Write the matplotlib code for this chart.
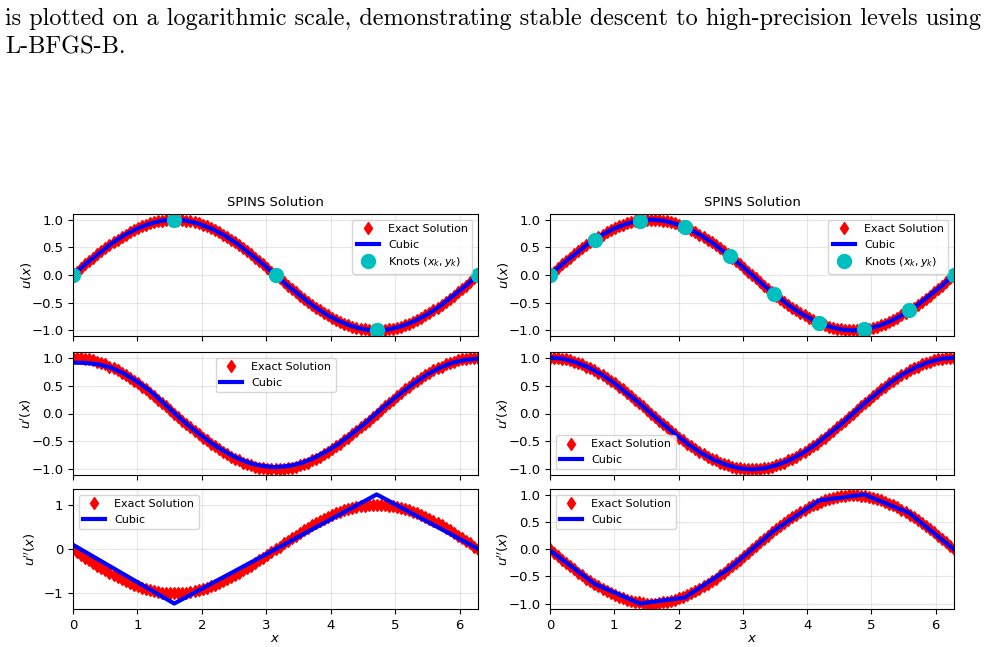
import numpy as np
import matplotlib
matplotlib.use('Agg')
import matplotlib.pyplot as plt
from matplotlib.ticker import MultipleLocator

# Exact solution sampled on 101 points over [0, 2*pi]
exact_u = [0.00, 0.06, 0.13, 0.19, 0.25, 0.31, 0.37, 0.43, 0.48, 0.54, 0.59, 0.64, 0.68,
           0.73, 0.77, 0.81, 0.84, 0.88, 0.90, 0.93, 0.95, 0.97, 0.98, 0.99, 1.00, 1.00,
           1.00, 0.99, 0.98, 0.97, 0.95, 0.93, 0.90, 0.88, 0.84, 0.81, 0.77, 0.73, 0.68,
           0.64, 0.59, 0.54, 0.48, 0.43, 0.37, 0.31, 0.25, 0.19, 0.13, 0.06, 0.00,
           -0.06, -0.13, -0.19, -0.25, -0.31, -0.37, -0.43, -0.48, -0.54, -0.59, -0.64, -0.68,
           -0.73, -0.77, -0.81, -0.84, -0.88, -0.90, -0.93, -0.95, -0.97, -0.98, -0.99, -1.00, -1.00,
           -1.00, -0.99, -0.98, -0.97, -0.95, -0.93, -0.90, -0.88, -0.84, -0.81, -0.77, -0.73, -0.68,
           -0.64, -0.59, -0.54, -0.48, -0.43, -0.37, -0.31, -0.25, -0.19, -0.13, -0.06, 0.00]
exact_du = [1.00, 1.00, 0.99, 0.98, 0.97, 0.95, 0.93, 0.90, 0.88, 0.84, 0.81, 0.77, 0.73,
            0.68, 0.64, 0.59, 0.54, 0.48, 0.43, 0.37, 0.31, 0.25, 0.19, 0.13, 0.06, 0.00,
            -0.06, -0.13, -0.19, -0.25, -0.31, -0.37, -0.43, -0.48, -0.54, -0.59, -0.64, -0.68,
            -0.73, -0.77, -0.81, -0.84, -0.88, -0.90, -0.93, -0.95, -0.97, -0.98, -0.99, -1.00, -1.00,
            -1.00, -0.99, -0.98, -0.97, -0.95, -0.93, -0.90, -0.88, -0.84, -0.81, -0.77, -0.73, -0.68,
            -0.64, -0.59, -0.54, -0.48, -0.43, -0.37, -0.31, -0.25, -0.19, -0.13, -0.06, 0.00,
            0.06, 0.13, 0.19, 0.25, 0.31, 0.37, 0.43, 0.48, 0.54, 0.59, 0.64, 0.68,
            0.73, 0.77, 0.81, 0.84, 0.88, 0.90, 0.93, 0.95, 0.97, 0.98, 0.99, 1.00, 1.00]
exact_d2u = [0.00, -0.06, -0.13, -0.19, -0.25, -0.31, -0.37, -0.43, -0.48, -0.54, -0.59, -0.64, -0.68,
             -0.73, -0.77, -0.81, -0.84, -0.88, -0.90, -0.93, -0.95, -0.97, -0.98, -0.99, -1.00, -1.00,
             -1.00, -0.99, -0.98, -0.97, -0.95, -0.93, -0.90, -0.88, -0.84, -0.81, -0.77, -0.73, -0.68,
             -0.64, -0.59, -0.54, -0.48, -0.43, -0.37, -0.31, -0.25, -0.19, -0.13, -0.06, 0.00,
             0.06, 0.13, 0.19, 0.25, 0.31, 0.37, 0.43, 0.48, 0.54, 0.59, 0.64, 0.68,
             0.73, 0.77, 0.81, 0.84, 0.88, 0.90, 0.93, 0.95, 0.97, 0.98, 0.99, 1.00, 1.00,
             1.00, 0.99, 0.98, 0.97, 0.95, 0.93, 0.90, 0.88, 0.84, 0.81, 0.77, 0.73, 0.68,
             0.64, 0.59, 0.54, 0.48, 0.43, 0.37, 0.31, 0.25, 0.19, 0.13, 0.06, 0.00]

# Cubic (SPINS) curves sampled on 33 points
cubic_u_left = [0.00, 0.20, 0.38, 0.56, 0.71, 0.83, 0.92, 0.98, 1.00, 0.98, 0.92, 0.83, 0.71,
                0.56, 0.38, 0.20, 0.00, -0.20, -0.38, -0.56, -0.71, -0.83, -0.92, -0.98, -1.00,
                -0.98, -0.92, -0.83, -0.71, -0.56, -0.38, -0.20, 0.00]
cubic_du_left = [0.91, 0.905, 0.88, 0.82, 0.72, 0.58, 0.42, 0.22, 0.01, -0.19, -0.37, -0.54, -0.68,
                 -0.80, -0.89, -0.94, -0.96, -0.94, -0.89, -0.80, -0.68, -0.54, -0.37, -0.19, 0.01,
                 0.20, 0.38, 0.55, 0.70, 0.82, 0.91, 0.96, 0.98]
cubic_u_right = [0.00, 0.20, 0.38, 0.56, 0.71, 0.83, 0.92, 0.98, 1.00, 0.98, 0.92, 0.83, 0.71,
                 0.56, 0.38, 0.20, 0.00, -0.20, -0.38, -0.56, -0.71, -0.83, -0.92, -0.98, -1.00,
                 -0.98, -0.92, -0.83, -0.71, -0.56, -0.38, -0.20, 0.00]
cubic_du_right = [1.00, 0.98, 0.92, 0.83, 0.71, 0.56, 0.38, 0.20, 0.00, -0.20, -0.38, -0.56, -0.71,
                  -0.83, -0.92, -0.98, -1.00, -0.98, -0.92, -0.83, -0.71, -0.56, -0.38, -0.20, 0.00,
                  0.20, 0.38, 0.56, 0.71, 0.83, 0.92, 0.98, 1.00]

# Second derivative of the cubic is piecewise linear between knots
cubic_d2u_left = [0.10, -1.23, 0.00, 1.24, 0.01]
cubic_d2u_right = [-0.02, -0.64, -1.00, -0.89, -0.35, 0.35, 0.90, 1.01, 0.67, 0.00]

# Knots
knots_left = [0.00, 1.00, 0.00, -1.00, 0.00]
knots_right = [0.00, 0.64, 0.98, 0.87, 0.34, -0.34, -0.87, -0.98, -0.64, 0.00]

caption1 = 'is plotted on a logarithmic scale, demonstrating stable descent to high-precision levels using'
caption2 = 'L-BFGS-B.'

L = 2 * np.pi
x_exact = np.linspace(0, L, len(exact_u))
x_cubic = np.linspace(0, L, len(cubic_u_left))
xk_left = np.linspace(0, L, len(knots_left))
xk_right = np.linspace(0, L, len(knots_right))

plt.rcParams['font.size'] = 9.5
plt.rcParams['legend.fontsize'] = 8
W, H = 987, 647
fig = plt.figure(figsize=(W / 100, H / 100), dpi=100)

def box(x0, x1, y0, y1):
    return [x0 / W, 1 - y1 / H, (x1 - x0) / W, (y1 - y0) / H]

cols = [(73, 478), (550, 954)]
rows = [(214, 336), (352, 475), (489, 609)]

columns = [
    (cubic_u_left, cubic_du_left, cubic_d2u_left, xk_left, knots_left, 'upper center', 1.0),
    (cubic_u_right, cubic_du_right, cubic_d2u_right, xk_right, knots_right, 'lower left', 0.5),
]

ms_exact = 6.5
for c, (cu, cdu, cd2u, xk, yk, loc2, step3) in enumerate(columns):
    axs = [fig.add_axes(box(cols[c][0], cols[c][1], r[0], r[1])) for r in rows]

    ax = axs[0]
    ax.plot(x_exact, exact_u, 'rd', ms=ms_exact, label='Exact Solution')
    ax.plot(x_cubic, cu, 'b-', lw=3, label='Cubic')
    ax.plot(xk, yk, 'co', ms=10, label='Knots $(x_k, y_k)$')
    ax.set_title('SPINS Solution', fontsize=9.5)
    ax.set_ylabel('$u(x)$', labelpad=-2)
    ax.legend(loc='upper right')

    ax = axs[1]
    ax.plot(x_exact, exact_du, 'rd', ms=ms_exact, label='Exact Solution')
    ax.plot(x_cubic, cdu, 'b-', lw=3, label='Cubic')
    ax.set_ylabel("$u'(x)$", labelpad=-2)
    ax.legend(loc=loc2)

    ax = axs[2]
    ax.plot(x_exact, exact_d2u, 'rd', ms=ms_exact, label='Exact Solution')
    ax.plot(xk, cd2u, 'b-', lw=3, label='Cubic')
    ax.set_ylabel("$u''(x)$", labelpad=-2 if step3 < 1 else 4)
    ax.set_xlabel('$x$', labelpad=0)
    ax.legend(loc='upper left')

    for i, ax in enumerate(axs):
        ax.set_xlim(0, L)
        ax.yaxis.set_major_locator(MultipleLocator(step3 if i == 2 else 0.5))
        ax.grid(alpha=0.3)
        if i < 2:
            ax.tick_params(labelbottom=False)

# Caption text from the surrounding document
t1 = fig.text(5 / W, 1 - 25 / H, caption1, family='cmr10', fontsize=16, va='baseline')
t2 = fig.text(5 / W, 1 - 53 / H, caption2, family='cmr10', fontsize=16, va='baseline')
fig.canvas.draw()
w = t1.get_window_extent().width
fs = 16 * 977 / w
t1.set_fontsize(fs)
t2.set_fontsize(fs)

fig.savefig('out.png', dpi=100)
